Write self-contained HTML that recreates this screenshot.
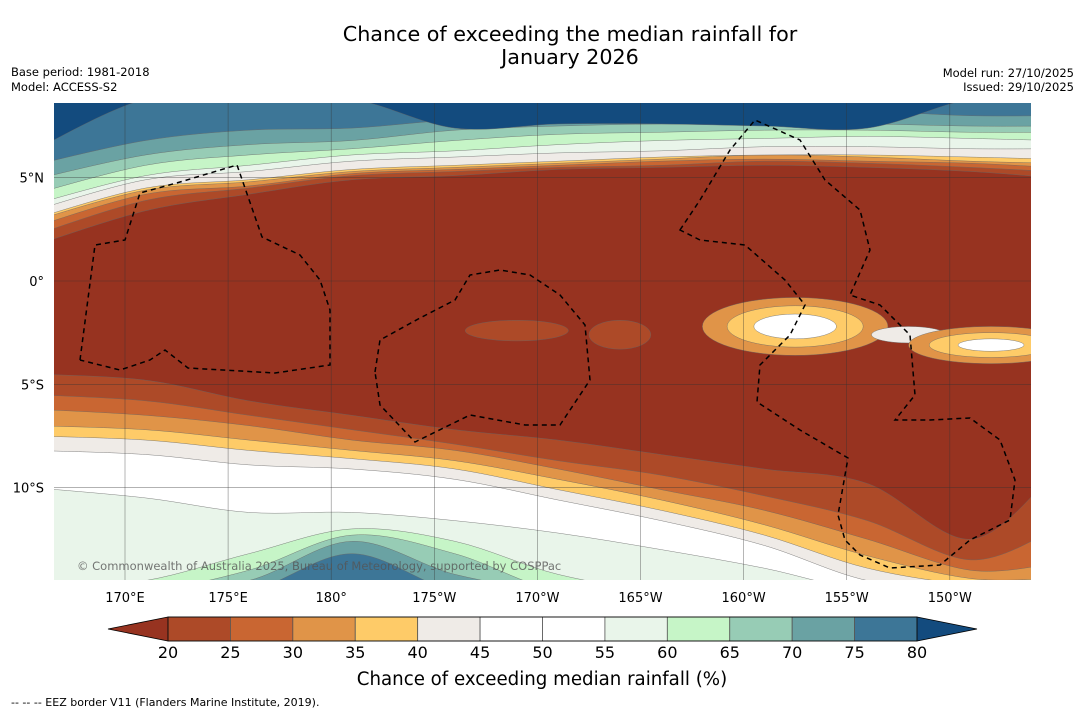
<!DOCTYPE html>
<html><head><meta charset="utf-8">
<style>
html,body{margin:0;padding:0;background:#fff;}
body{width:1085px;height:713px;overflow:hidden;font-family:"DejaVu Sans","Liberation Sans",sans-serif;}
</style></head>
<body>
<svg id="chart" width="1085" height="713" viewBox="0 0 1085 713" xmlns="http://www.w3.org/2000/svg" font-family="DejaVu Sans, Liberation Sans, sans-serif">
<text x="570" y="41" font-size="20.7" text-anchor="middle">Chance of exceeding the median rainfall for</text>
<text x="570" y="64" font-size="20.7" text-anchor="middle">January 2026</text>
<text x="11" y="76" font-size="11.5">Base period: 1981-2018</text>
<text x="11" y="91" font-size="11.5">Model: ACCESS-S2</text>
<text x="1074" y="77" font-size="11.5" text-anchor="end">Model run: 27/10/2025</text>
<text x="1074" y="91" font-size="11.5" text-anchor="end">Issued: 29/10/2025</text>
<defs><clipPath id="mapclip"><rect x="54" y="103" width="977" height="477"/></clipPath></defs>
<g id="map" clip-path="url(#mapclip)"></g>
<g id="grid"></g>
<g id="borders" fill="none" stroke="#000" stroke-width="1.5" stroke-dasharray="5,4" clip-path="url(#mapclip)">
<path d="M80,360 L95,245 L125,240 L140,193 L180,182 L237,165 L262,237 L300,255 L320,280 L330,310 L330,365 L275,373 L188,368 L165,350 L150,360 L120,370 L80,360"/>
<path d="M375,372 L380,340 L420,318 L455,300 L470,275 L500,270 L530,275 L560,295 L585,325 L590,380 L560,425 L525,425 L470,415 L415,442 L380,405 Z"/>
<path d="M680,230 L700,200 L730,150 L755,120 L800,140 L825,180 L860,210 L870,250 L850,295 L880,305 L910,335 L915,395 L895,420 L930,420 L970,418 L1000,440 L1015,480 L1010,520 L970,540 L940,565 L890,568 L860,555 L845,540 L838,515 L848,458 L800,430 L757,402 L760,365 L790,335 L805,305 L785,280 L745,245 L700,240 Z"/>
</g>
<text x="77" y="570" font-size="11.5" fill="#555" fill-opacity="0.8">© Commonwealth of Australia 2025, Bureau of Meteorology, supported by COSPPac</text>
<g id="xlabels" font-size="13"></g>
<g id="ylabels" font-size="13"></g>
<g id="cbar"></g>
<text x="542" y="685" font-size="18.2" text-anchor="middle">Chance of exceeding median rainfall (%)</text>
<text x="11" y="706" font-size="11">--  --  -- EEZ border V11 (Flanders Marine Institute, 2019).</text>
</svg>
<script>
// ---- data ----
const levels=[20,25,30,35,40,45,50,55,60,65,70,75,80];
const binColors=["#ad4a28","#c96632","#e09448","#fecb68","#efebe7","#ffffff","#ffffff","#e9f5ea","#c6f5c7","#97ccb5","#6aa2a3","#3d7697"];
const underColor="#973320", overColor="#134b7e";
const sampleLons=[166.5,171,176,181,186,191,196,201,206,211,214];
const northLevels=[20,25,30,35,40,55,60,65,70,75,80];
const north20=[1.7,3.4,4.2,4.9,5.1,5.4,5.5,5.6,5.5,5.3,5.0];
const north25=[2.2,3.9,4.5,5.1,5.3,5.5,5.6,5.8,5.7,5.5,5.3];
const north30=[2.6,4.2,4.6,5.2,5.4,5.6,5.8,5.9,5.8,5.7,5.5];
const north35=[2.9,4.4,4.8,5.3,5.5,5.7,5.9,6.1,6.0,5.8,5.7];
const north40=[3.0,4.5,4.9,5.4,5.6,5.8,6.0,6.1,6.1,6.0,5.9];
const north55=[3.4,4.9,5.3,5.8,6.0,6.2,6.3,6.5,6.5,6.4,6.4];
const north60=[3.7,5.1,5.6,6.1,6.3,6.6,6.8,6.9,7.0,6.9,6.8];
const north65=[4.2,5.6,6.1,6.4,6.8,7.1,7.2,7.3,7.3,7.2,7.2];
const north70=[4.9,6.1,6.6,6.8,7.3,7.5,7.6,7.6,7.6,7.5,7.5];
const north75=[5.6,6.8,7.3,7.4,7.8,7.9,8.0,8.1,8.2,8.0,8.0];
const north80=[6.3,8.8,8.8,8.8,7.4,7.6,7.6,7.5,7.4,8.8,8.8];
const southLevels=[20,25,30,35,40,45,55,60,65,70,75];
const south20=[-4.5,-4.8,-5.8,-6.5,-7.2,-7.7,-8.4,-9.1,-9.8,-12.5,-9.4];
const south25=[-5.5,-5.8,-6.5,-7.2,-7.9,-8.7,-9.4,-10.4,-11.6,-13.5,-12.1];
const south30=[-6.2,-6.5,-7.0,-7.7,-8.2,-9.1,-10.1,-11.1,-12.5,-14.0,-13.7];
const south35=[-7.0,-7.2,-7.7,-8.2,-8.7,-9.6,-10.6,-11.8,-13.3,-14.4,-14.4];
const south40=[-7.5,-7.7,-8.2,-8.6,-9.1,-10.1,-11.1,-12.3,-13.9,-14.7,-14.7];
const south45=[-8.2,-8.4,-8.9,-9.1,-9.6,-10.6,-11.6,-12.8,-14.5,-15,-15];
const south55=[-10.0,-10.5,-11.2,-11.2,-11.6,-12.2,-13.0,-13.9,-15,-15,-15];
const south60=[-15,-14.5,-13.2,-12.0,-12.6,-14.2,-15,-15,-15,-15,-15];
const south65=[-15,-15,-14.0,-12.3,-13.2,-15,-15,-15,-15,-15,-15];
const south70=[-15,-15,-14.5,-12.6,-14.2,-15,-15,-15,-15,-15,-15];
const south75=[-15,-15,-15,-13.2,-15,-15,-15,-15,-15,-15,-15];
// light patches in the southern equatorial band: lon, lat, level, radius lon, radius lat
const patchLon=[189,194,202.5,202.5,202.5,208,212,212,212];
const patchLat=[-2.4,-2.6,-2.2,-2.2,-2.2,-2.6,-3.1,-3.1,-3.1];
const patchLevel=[20,20,30,35,45,40,30,35,45];
const patchRLon=[2.5,1.5,4.5,3.3,2.0,1.8,4,3,1.6];
const patchRLat=[0.5,0.7,1.4,1.0,0.6,0.4,0.9,0.6,0.3];
const lonTicks=[170,175,180,185,190,195,200,205,210];
const lonTickLabels=["170°E","175°E","180°","175°W","170°W","165°W","160°W","155°W","150°W"];
const latTicks=[5,0,-5,-10];
const latTickLabels=["5°N","0°","5°S","10°S"];
// ---- axes ----
const X=lon=>125+(lon-170)*20.62;
const Y=lat=>281-lat*20.66;
const ns="http://www.w3.org/2000/svg";
function colorFor(lv){const i=levels.indexOf(lv);return (i<0||i>=binColors.length)?overColor:binColors[i];}
function smooth(pts){let d="M"+pts[0][0]+","+pts[0][1];
 for(let i=0;i<pts.length-1;i++){const p0=pts[Math.max(0,i-1)],p1=pts[i],p2=pts[i+1],p3=pts[Math.min(pts.length-1,i+2)];
 d+=" C"+(p1[0]+(p2[0]-p0[0])/6)+","+(p1[1]+(p2[1]-p0[1])/6)+" "+(p2[0]-(p3[0]-p1[0])/6)+","+(p2[1]-(p3[1]-p1[1])/6)+" "+p2[0]+","+p2[1];}
 return d;}
const map=document.getElementById('map');
const bg=document.createElementNS(ns,'rect');


bg.setAttribute('x',X(166));bg.setAttribute('y',Y(9));bg.setAttribute('width',1000);bg.setAttribute('height',500);bg.setAttribute('fill',underColor);
map.appendChild(bg);
const northSets=[north20,north25,north30,north35,north40,north55,north60,north65,north70,north75,north80];
const southSets=[south20,south25,south30,south35,south40,south45,south55,south60,south65,south70,south75];
function band(arr,lv,edgeLat,name){
 const pts=arr.map((v,i)=>[X(sampleLons[i]),Y(v)]);
 pts[0][0]-=20;pts[pts.length-1][0]+=20;
 const d=smooth(pts)+" L"+pts[pts.length-1][0]+","+Y(edgeLat)+" L"+pts[0][0]+","+Y(edgeLat)+" Z";
 const p=document.createElementNS(ns,'path');
 
 
 p.setAttribute('d',d);
 p.setAttribute('fill',colorFor(lv));p.setAttribute('stroke','#666');p.setAttribute('stroke-width','0.4');
 map.appendChild(p);}
northSets.forEach((a,k)=>band(a,northLevels[k],10,'north-contour-'+northLevels[k]));
southSets.forEach((a,k)=>band(a,southLevels[k],-16,'south-contour-'+southLevels[k]));
patchLon.forEach((lon,i)=>{
 const e=document.createElementNS(ns,'ellipse');
 
 
 e.setAttribute('cx',X(lon));e.setAttribute('cy',Y(patchLat[i]));
 e.setAttribute('rx',patchRLon[i]*20.62);e.setAttribute('ry',patchRLat[i]*20.66);
 e.setAttribute('fill',colorFor(patchLevel[i]));e.setAttribute('stroke','#666');e.setAttribute('stroke-width','0.4');
 map.appendChild(e);});
// grid
const grid=document.getElementById('grid');
lonTicks.forEach(l=>{const ln=document.createElementNS(ns,'line');
 
 
 ln.setAttribute('x1',X(l));ln.setAttribute('x2',X(l));ln.setAttribute('y1',103);ln.setAttribute('y2',580);
 ln.setAttribute('stroke','#333');ln.setAttribute('stroke-width','0.6');ln.setAttribute('stroke-opacity','0.6');grid.appendChild(ln);});
latTicks.forEach(l=>{const ln=document.createElementNS(ns,'line');
 
 
 ln.setAttribute('x1',54);ln.setAttribute('x2',1031);ln.setAttribute('y1',Y(l));ln.setAttribute('y2',Y(l));
 ln.setAttribute('stroke','#333');ln.setAttribute('stroke-width','0.6');ln.setAttribute('stroke-opacity','0.6');grid.appendChild(ln);});
const xl=document.getElementById('xlabels');
lonTicks.forEach((l,i)=>{const t=document.createElementNS(ns,'text');
 
 
 t.setAttribute('x',X(l));t.setAttribute('y',602);t.setAttribute('text-anchor','middle');t.textContent=lonTickLabels[i];xl.appendChild(t);});
const yl=document.getElementById('ylabels');
latTicks.forEach((l,i)=>{const t=document.createElementNS(ns,'text');
 
 
 t.setAttribute('x',44);t.setAttribute('y',Y(l)+5);t.setAttribute('text-anchor','end');t.textContent=latTickLabels[i];yl.appendChild(t);});
// colorbar
const cb=document.getElementById('cbar');
const CX=v=>168+(v-20)*(917-168)/60;
const cy0=617,cy1=641;
const la=document.createElementNS(ns,'polygon');


la.setAttribute('points',CX(20)+","+cy0+" 108,629 "+CX(20)+","+cy1);la.setAttribute('fill',underColor);la.setAttribute('stroke','#000');la.setAttribute('stroke-width','0.8');cb.appendChild(la);
const ra=document.createElementNS(ns,'polygon');


ra.setAttribute('points',CX(80)+","+cy0+" 977,629 "+CX(80)+","+cy1);ra.setAttribute('fill',overColor);ra.setAttribute('stroke','#000');ra.setAttribute('stroke-width','0.8');cb.appendChild(ra);
binColors.forEach((c,i)=>{const r=document.createElementNS(ns,'rect');
 
 
 r.setAttribute('x',CX(levels[i]));r.setAttribute('y',cy0);r.setAttribute('width',CX(levels[i+1])-CX(levels[i]));r.setAttribute('height',cy1-cy0);
 r.setAttribute('fill',c);r.setAttribute('stroke','#555');r.setAttribute('stroke-width','0.8');cb.appendChild(r);});
const frame=document.createElementNS(ns,'rect');


frame.setAttribute('x',CX(20));frame.setAttribute('y',cy0);frame.setAttribute('width',CX(80)-CX(20));frame.setAttribute('height',cy1-cy0);frame.setAttribute('fill','none');frame.setAttribute('stroke','#000');frame.setAttribute('stroke-width','0.8');cb.appendChild(frame);
levels.forEach(v=>{const t=document.createElementNS(ns,'text');
 
 
 t.setAttribute('x',CX(v));t.setAttribute('y',658);t.setAttribute('text-anchor','middle');t.setAttribute('font-size','16');t.textContent=v;cb.appendChild(t);});
</script>
</body></html>
